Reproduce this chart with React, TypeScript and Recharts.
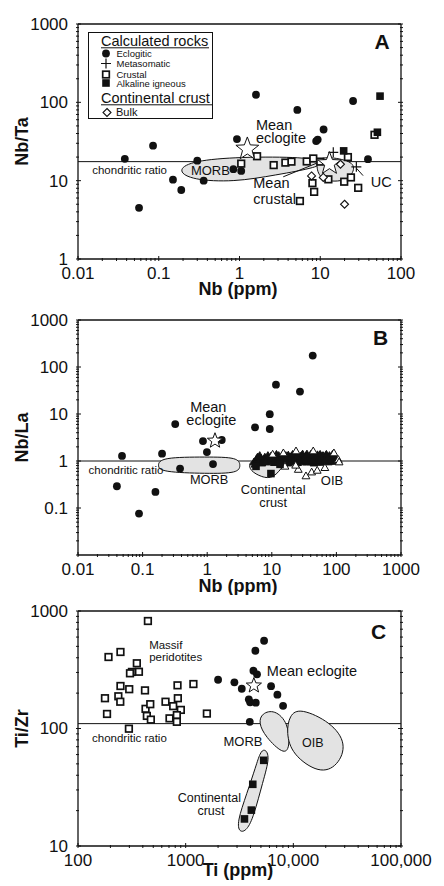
import React from 'react';
import { ScatterChart, Scatter, XAxis, YAxis, ReferenceLine, Customized } from 'recharts';

type Pt = [number, number];
type Note = { x: number; y: number; t: string };

// ---------- A: Nb/Ta vs Nb ----------
const aEclogitic: Pt[] = [
  [0.038, 19], [0.057, 4.5], [0.085, 28], [0.15, 10.3], [0.19, 7.6], [0.3, 18], [0.36, 10],
  [0.93, 34], [0.84, 14], [1.05, 13.3], [1.6, 125], [5.2, 80], [11, 45], [8.9, 32], [9.3, 33.5],
  [25.5, 104], [39, 18.8],
];
const aMetasomatic: Pt[] = [[14.5, 23], [28, 15]];
const aCrustal: Pt[] = [
  [1.05, 16.5], [1.65, 20.5], [2.65, 15.8], [3.7, 17], [4.4, 17.5], [6.8, 17.6], [8.2, 19.2],
  [10, 17.5], [8, 9.3], [8.4, 7.2], [5.6, 5.5], [12.6, 10.4], [19.8, 9.7], [24, 11], [29.5, 8.1],
  [22, 20], [47, 38.5],
];
const aAlkaline: Pt[] = [[19.5, 24], [55, 120], [51, 41.5]];
const aBulk: Pt[] = [[17.8, 16.2], [7.8, 11.5], [10.9, 11], [20, 5]];
const aMeanEclogite: Pt[] = [[1.25, 25.4]];
const aMeanCrustal: Pt[] = [[13, 16.5]];
const aMorbOutline: Pt[] = [
  [0.17, 13.3], [0.24, 17.5], [0.8, 20], [5.5, 20.2], [11.5, 17.8], [9.5, 14.8], [2.8, 11.8],
  [0.85, 9.6], [0.26, 10.2],
];
const aUcOutline: Pt[] = [[9.5, 21], [22, 18.5], [28, 15], [22, 9.7], [10.5, 9.7], [8.8, 14.5]];
const aCrustalLeader: Pt[] = [[3.48, 11.2], [9, 16.7]];
const aUcLeader: Pt[] = [[33.9, 11.6], [28.1, 14.4]];
const aNotesSmall: Note[] = [{ x: 0.015, y: 12.2, t: 'chondritic ratio' }];
const aNotesMid: Note[] = [{ x: 0.25, y: 11.8, t: 'MORB' }];
const aNotesBig: Note[] = [
  { x: 1.6, y: 43.8, t: 'Mean' }, { x: 1.6, y: 29.9, t: 'eclogite' },
  { x: 1.48, y: 7.95, t: 'Mean' }, { x: 1.48, y: 5.04, t: 'crustal' },
  { x: 42.2, y: 8.3, t: 'UC' },
];

// ---------- B: Nb/La vs Nb ----------
const bEclogitic: Pt[] = [
  [0.048, 1.28], [0.04, 0.29], [0.088, 0.076], [0.158, 0.22], [0.2, 1.43], [0.32, 6.1],
  [0.38, 0.69], [0.86, 2.66], [0.99, 1.55], [1.23, 0.86], [1.68, 2.8], [5.5, 5.2], [9.3, 9.9],
  [9.3, 4.8], [11.6, 42], [27.3, 30], [43, 175],
];
const bMeanEclogite: Pt[] = [[1.32, 2.7]];
const bCrustSquares: Pt[] = [[5.7, 0.77], [9.7, 0.54], [13.4, 0.85]];
const bOibDense: Pt[] = [
  [5.3, 0.95], [5.8, 1.1], [6.3, 1.0], [6.8, 1.15], [7.3, 1.05], [7.8, 1.2], [8.4, 1.0], [9, 1.1],
  [9.6, 1.25], [10.5, 1.05], [11.3, 1.2], [12, 1.0], [12.8, 1.3], [13.6, 1.1], [14.5, 1.2],
  [15.5, 1.0], [16.5, 1.3], [17.5, 1.15], [18.8, 1.05], [20, 1.25], [21.5, 1.1], [23, 1.35],
  [24.5, 1.0], [26, 1.2], [27.5, 1.1], [29, 1.3], [31, 1.05], [33, 1.2], [35, 1.4], [37, 1.1],
  [39, 1.25], [41, 1.0], [43.5, 1.3], [46, 1.15], [48.5, 1.05], [51, 1.35], [54, 1.2], [57, 1.0],
  [60, 1.25], [64, 1.1], [68, 1.3], [72, 1.05], [76, 1.2], [80, 1.1], [85, 1.25], [90, 1.05],
  [95, 1.15], [7, 0.9], [11, 0.92], [18, 0.9], [25, 0.92], [35, 0.95], [45, 0.9], [60, 0.93],
  [75, 0.95], [6, 1.2], [8, 1.1], [10, 1.15], [13, 1.15], [16, 1.1], [19, 1.2], [22, 1.15],
  [28, 1.25], [32, 1.1], [38, 1.15], [42, 1.2], [47, 1.25], [53, 1.1], [58, 1.15], [66, 1.2],
  [74, 1.15], [82, 1.2], [88, 1.1], [100, 1.0], [5.5, 0.85], [9, 0.95], [14, 0.95], [20, 0.95],
  [30, 0.95], [40, 0.95], [50, 0.95], [70, 1.0], [85, 0.98], [6.5, 1.3], [8.7, 1.3], [11.8, 1.38],
  [15, 1.4], [18, 1.33], [21, 1.38], [25, 1.3], [30, 1.4], [34, 1.3], [40, 1.38], [44, 1.45],
  [50, 1.25], [56, 1.38], [62, 1.3], [70, 1.38], [78, 1.3], [87, 1.38], [6.2, 0.92], [8, 0.96],
  [12.5, 0.98], [16, 0.96], [22, 0.98], [27, 1.0], [33, 1.0], [38, 0.98], [43, 1.0], [55, 1.0],
  [65, 1.0], [80, 1.0], [92, 1.25],
];
const bOibOpen: Pt[] = [
  [10.3, 1.39], [15.1, 1.48], [23.7, 1.63], [43.8, 1.63], [91.5, 1.48], [107, 1.07], [16, 0.77],
  [25.7, 0.66], [33.8, 0.48], [41.4, 0.58], [50.5, 0.63], [66.4, 0.72], [110, 0.95], [23.4, 0.81],
];
const bMorbOutline: Pt[] = [
  [0.17, 0.8], [0.19, 1.2], [1, 1.22], [3.0, 1.2], [3.3, 0.8], [3.0, 0.55], [1, 0.54], [0.19, 0.58],
];
const bCrustOutline: Pt[] = [
  [4.4, 0.9], [5.5, 1.12], [15, 1.1], [16, 0.85], [10.5, 0.42], [7, 0.45], [4.6, 0.62],
];
const bNotesSmall: Note[] = [{ x: 0.0146, y: 0.52, t: 'chondritic ratio' }];
const bNotesMid: Note[] = [
  { x: 1.07, y: 0.32, t: 'MORB' }, { x: 10.5, y: 0.2, t: 'Continental' }, { x: 10.5, y: 0.105, t: 'crust' },
];
const bNotesOib: Note[] = [{ x: 57.5, y: 0.304, t: 'OIB' }];
const bNotesBig: Note[] = [{ x: 1.04, y: 10.9, t: 'Mean' }, { x: 1.16, y: 5.7, t: 'eclogite' }];

// ---------- C: Ti/Zr vs Ti ----------
const cPeridotites: Pt[] = [
  [446, 822], [192, 406], [248, 448], [352, 359], [317, 303], [368, 304], [304, 295], [178, 181],
  [186, 133], [248, 230], [237, 188], [247, 169], [299, 216], [419, 211], [424, 147], [469, 161],
  [436, 128], [475, 119], [297, 99.6], [650, 169], [766, 155], [902, 144], [708, 122], [828, 130],
  [828, 114], [1574, 134], [840, 233], [1180, 239], [846, 181],
];
const cEclogitic: Pt[] = [
  [5350, 558], [4440, 459], [4260, 310], [4600, 289], [2000, 260], [2835, 247], [3320, 218],
  [6210, 229], [7110, 194], [8030, 156], [3860, 177], [3970, 167], [4480, 166], [3940, 114],
];
const cMeanEclogite: Pt[] = [[4300, 232]];
const cCrustSquares: Pt[] = [[5310, 53.6], [4200, 33.5], [4075, 20.2], [3515, 17]];
const cMorbOutline: Pt[] = [
  [6700, 145], [9000, 112], [9300, 68], [8100, 60], [5500, 85], [4750, 112], [5100, 135],
];
const cOibOutline: Pt[] = [
  [11500, 150], [22500, 113], [31500, 74], [26000, 48], [17500, 41], [9700, 60], [8600, 92], [9200, 130],
];
const cCrustOutline: Pt[] = [
  [5400, 68], [6100, 58], [5200, 35], [4300, 18], [3700, 13.5], [3150, 13], [3000, 16], [3700, 28],
  [4500, 48], [4900, 62],
];
const cNotesSmall: Note[] = [
  { x: 458, y: 475, t: 'Massif' }, { x: 458, y: 375, t: 'peridotites' }, { x: 135, y: 77.4, t: 'chondritic ratio' },
];
const cNotesMid: Note[] = [{ x: 2243, y: 71.6, t: 'MORB' }];
const cNotesMidC: Note[] = [
  { x: 15140, y: 69.8, t: 'OIB' }, { x: 1660, y: 23.8, t: 'Continental' }, { x: 1718, y: 18.5, t: 'crust' },
];
const cNotesBig: Note[] = [{ x: 5670, y: 280, t: 'Mean eclogite' }];

// axes
const nbLabels = [0.01, 0.1, 1, 10, 100];
const nbLabelsB = [0.01, 0.1, 1, 10, 100, 1000];
const nbTaLabels = [1, 10, 100, 1000];
const nbLaLabels = [0.1, 1, 10, 100, 1000];
const tiLabels = [100, 1000, 10000, 100000];
const tiZrLabels = [10, 100, 1000];

const INK = '#111';
const FONT = '"Liberation Sans", Arial, Helvetica, sans-serif';

function logTicks(lo: number, hi: number) {
  const out: number[] = [];
  for (let d = lo; d < hi * 0.999; d *= 10) {
    for (let m = 1; m < 10; m++) out.push(Number((m * d).toPrecision(3)));
  }
  out.push(hi);
  return out;
}

const toXY = (d: Pt[]) => d.map(([x, y]) => ({ x, y }));
const plain = (v: number) => (v >= 10000 ? v.toLocaleString('en-US') : String(v));

function starPath(cx: number, cy: number, R: number) {
  let d = '';
  for (let i = 0; i < 10; i++) {
    const a = -Math.PI / 2 + (i * Math.PI) / 5;
    const r = i % 2 === 0 ? R : R * 0.42;
    d += (i === 0 ? 'M' : 'L') + (cx + r * Math.cos(a)).toFixed(2) + ',' + (cy + r * Math.sin(a)).toFixed(2);
  }
  return d + 'Z';
}

// marker shapes
const none = () => <g />;
const dot = (p: any) => <circle cx={p.cx} cy={p.cy} r={3.9} fill={INK} />;
const openSq = (p: any) => (
  <rect x={p.cx - 3.3} y={p.cy - 3.3} width={6.6} height={6.6} fill="#fff" stroke={INK} strokeWidth={1.7} />
);
const fillSq = (p: any) => <rect x={p.cx - 3.8} y={p.cy - 3.8} width={7.6} height={7.6} fill={INK} />;
const plus = (p: any) => (
  <path d={`M${p.cx - 5},${p.cy}H${p.cx + 5}M${p.cx},${p.cy - 5}V${p.cy + 5}`} stroke={INK} strokeWidth={1.2} />
);
const diamond = (p: any) => (
  <path d={`M${p.cx},${p.cy - 4}L${p.cx + 4},${p.cy}L${p.cx},${p.cy + 4}L${p.cx - 4},${p.cy}Z`} fill="#fff" stroke={INK} strokeWidth={1.1} />
);
const tri = (filled: boolean) => (p: any) => (
  <path d={`M${p.cx},${p.cy - 4}L${p.cx + 3.9},${p.cy + 2.8}L${p.cx - 3.9},${p.cy + 2.8}Z`}
    fill={filled ? INK : '#fff'} stroke={INK} strokeWidth={1} />
);
const star = (R: number) => (p: any) => <path d={starPath(p.cx, p.cy, R)} fill="#fff" stroke={INK} strokeWidth={1} />;

const series = (d: Pt[], shape: any) => <Scatter data={toXY(d)} shape={shape} isAnimationActive={false} />;
const outline = (d: Pt[]) => (
  <Scatter data={toXY(d)} shape={none} lineJointType="basisClosed"
    line={{ fill: '#e3e3e3', stroke: INK, strokeWidth: 1 }} isAnimationActive={false} />
);
const leader = (d: Pt[]) => (
  <Scatter data={toXY(d)} shape={none} lineJointType="linear" line={{ stroke: INK, strokeWidth: 1 }} isAnimationActive={false} />
);
const notes = (d: Note[], fs: number, anchor: 'start' | 'middle') => (
  <Scatter data={d} isAnimationActive={false}
    shape={(p: any) => (
      <text x={p.cx} y={p.cy} fontSize={fs} textAnchor={anchor} fill={INK} fontFamily={FONT}>{p.payload.t}</text>
    )} />
);

const xTick = (labels: number[], fmt: (v: number) => string) => (p: any) => {
  const v = p.payload.value;
  const major = labels.includes(v);
  return (
    <g>
      <line x1={p.x} x2={p.x} y1={p.y} y2={p.y - (major ? 5 : 3)} stroke={INK} />
      {major && <text x={p.x} y={p.y + 17.5} textAnchor="middle" fontSize={17} fill={INK}>{fmt(v)}</text>}
    </g>
  );
};
const yTick = (labels: number[], fmt: (v: number) => string) => (p: any) => {
  const v = p.payload.value;
  const major = labels.includes(v);
  return (
    <g>
      <line x1={p.x} x2={p.x + (major ? 5 : 3)} y1={p.y} y2={p.y} stroke={INK} />
      {major && <text x={p.x - 8} y={p.y} dy="0.35em" textAnchor="end" fontSize={17} fill={INK}>{fmt(v)}</text>}
    </g>
  );
};
const rTick = (labels: number[]) => (p: any) => {
  const major = labels.includes(p.payload.value);
  return <line x1={p.x} x2={p.x - (major ? 5 : 3)} y1={p.y} y2={p.y} stroke={INK} />;
};

type PanelProps = {
  top: number;
  height: number;
  plotTop: number;
  xAxisH: number;
  xDomain: [number, number];
  yDomain: [number, number];
  xLabels: number[];
  yLabels: number[];
  chondritic: number;
  overlay: React.ReactElement;
  children: React.ReactNode;
};

function Panel({ top, height, plotTop, xAxisH, xDomain, yDomain, xLabels, yLabels, chondritic, overlay, children }: PanelProps) {
  const xt = logTicks(xDomain[0], xDomain[1]);
  const yt = logTicks(yDomain[0], yDomain[1]);
  const axisLine = { stroke: INK, strokeWidth: 1.3 };
  return (
    <div style={{ position: 'absolute', left: 0, top }}>
      <ScatterChart width={444} height={height} margin={{ top: plotTop - 1, right: 42, bottom: 0, left: 0 }}>
        <XAxis dataKey="x" type="number" scale="log" domain={xDomain} allowDataOverflow ticks={xt} interval={0}
          tickSize={0} tickLine={false} axisLine={axisLine} height={xAxisH} tick={xTick(xLabels, plain)} />
        <XAxis xAxisId="t" orientation="top" type="number" scale="log" domain={xDomain} allowDataOverflow
          height={1} tick={false} tickLine={false} axisLine={axisLine} />
        <YAxis dataKey="y" type="number" scale="log" domain={yDomain} allowDataOverflow ticks={yt} interval={0}
          tickSize={0} tickLine={false} axisLine={axisLine} width={78} tick={yTick(yLabels, plain)} />
        <YAxis yAxisId="r" orientation="right" type="number" scale="log" domain={yDomain} allowDataOverflow
          ticks={yt} interval={0} tickSize={0} tickLine={false} axisLine={axisLine} width={1} tick={rTick(yLabels)} />
        {children}
        <ReferenceLine y={chondritic} stroke={INK} strokeWidth={1} />
        <Customized component={overlay} />
      </ScatterChart>
    </div>
  );
}

const Titles = ({ xTitle, yTitle, yMid, xBase, letter, letterX, letterY }: any) => (
  <g fontFamily={FONT} fill={INK}>
    <text transform={`translate(28,${yMid}) rotate(-90)`} textAnchor="middle" fontSize={18} fontWeight="bold">{yTitle}</text>
    <text x={238} y={xBase} textAnchor="middle" fontSize={18} fontWeight="bold">{xTitle}</text>
    <text x={letterX} y={letterY} textAnchor="middle" fontSize={21} fontWeight="bold">{letter}</text>
  </g>
);

const LegendBox = () => (
  <g fontFamily={FONT} fill={INK}>
    <rect x={88.5} y={32.5} width={124} height={86} fill="#fff" stroke={INK} strokeWidth={1} />
    <text x={101} y={45.5} fontSize={14.5}>Calculated rocks</text>
    <line x1={101} x2={209} y1={47.8} y2={47.8} stroke={INK} />
    {dot({ cx: 106, cy: 53.5 })}
    <text x={116.5} y={57} fontSize={9.5}>Eclogitic</text>
    {plus({ cx: 106, cy: 63.5 })}
    <text x={116.5} y={67} fontSize={9.5}>Metasomatic</text>
    {openSq({ cx: 106, cy: 74.5 })}
    <text x={116.5} y={77.5} fontSize={9.5}>Crustal</text>
    {fillSq({ cx: 106, cy: 83 })}
    <text x={116.5} y={86.5} fontSize={9.5}>Alkaline igneous</text>
    <text x={101} y={102.5} fontSize={14.5}>Continental crust</text>
    <line x1={101} x2={212} y1={104.8} y2={104.8} stroke={INK} />
    {diamond({ cx: 107, cy: 112.5 })}
    <text x={116} y={116} fontSize={11}>Bulk</text>
  </g>
);

export default function App() {
  return (
    <div style={{ position: 'absolute', left: 0, top: 0, width: 444, height: 886, background: '#fff', fontFamily: FONT }}>
      <Panel top={0} height={300} plotTop={24} xAxisH={41} xDomain={[0.01, 100]} yDomain={[1, 1000]}
        xLabels={nbLabels} yLabels={nbTaLabels} chondritic={17.5}
        overlay={
          <g>
            <Titles xTitle="Nb (ppm)" yTitle="Nb/Ta" yMid={141.5} xBase={295} letter="A" letterX={382} letterY={49} />
            <LegendBox />
          </g>
        }>
        {outline(aMorbOutline)}
        {outline(aUcOutline)}
        {leader(aCrustalLeader)}
        {leader(aUcLeader)}
        {series(aEclogitic, dot)}
        {series(aCrustal, openSq)}
        {series(aAlkaline, fillSq)}
        {series(aBulk, diamond)}
        {series(aMetasomatic, plus)}
        {series(aMeanEclogite, star(12))}
        {series(aMeanCrustal, star(12))}
        {notes(aNotesSmall, 11.5, 'start')}
        {notes(aNotesMid, 13, 'start')}
        {notes(aNotesBig, 14.5, 'start')}
      </Panel>

      <Panel top={290} height={305} plotTop={30} xAxisH={40} xDomain={[0.01, 1000]} yDomain={[0.01, 1000]}
        xLabels={nbLabelsB} yLabels={nbLaLabels} chondritic={1}
        overlay={<Titles xTitle="Nb (ppm)" yTitle="Nb/La" yMid={147.5} xBase={302} letter="B" letterX={380.5} letterY={55} />}>
        {outline(bMorbOutline)}
        {outline(bCrustOutline)}
        {series(bOibDense, tri(true))}
        {series(bOibOpen, tri(false))}
        {series(bCrustSquares, fillSq)}
        {series(bEclogitic, dot)}
        {series(bMeanEclogite, star(8))}
        {notes(bNotesSmall, 11.5, 'start')}
        {notes(bNotesMid, 12.8, 'middle')}
        {notes(bNotesOib, 13, 'start')}
        {notes(bNotesBig, 14.5, 'middle')}
      </Panel>

      <Panel top={580} height={306} plotTop={31} xAxisH={40} xDomain={[100, 100000]} yDomain={[10, 1000]}
        xLabels={tiLabels} yLabels={tiZrLabels} chondritic={110}
        overlay={<Titles xTitle="Ti (ppm)" yTitle="Ti/Zr" yMid={148.5} xBase={295.5} letter="C" letterX={378.7} letterY={59} />}>
        {outline(cMorbOutline)}
        {outline(cOibOutline)}
        {outline(cCrustOutline)}
        {series(cPeridotites, openSq)}
        {series(cEclogitic, dot)}
        {series(cCrustSquares, fillSq)}
        {series(cMeanEclogite, star(8))}
        {notes(cNotesSmall, 11.5, 'start')}
        {notes(cNotesMid, 13, 'start')}
        {notes(cNotesMidC, 12.5, 'middle')}
        {notes(cNotesBig, 14.5, 'start')}
      </Panel>
    </div>
  );
}
